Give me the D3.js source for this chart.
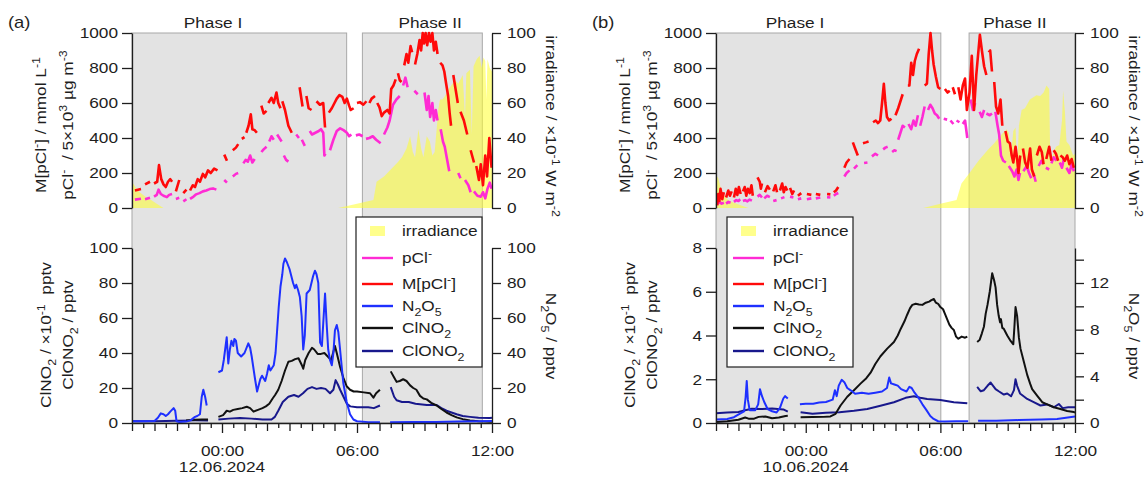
<!DOCTYPE html>
<html>
<head>
<meta charset="utf-8">
<script src="https://cdn.jsdelivr.net/npm/d3@7"></script>
<style>
  html, body { margin: 0; padding: 0; background: #fff; }
  svg { display: block; }
  text { white-space: pre; }
</style>
</head>
<body>
<svg id="chart" width="1147" height="477"></svg>
<script>
// ---------------------------------------------------------------------------
// Data. Every series is a list of [hour relative to local midnight, value];
// a null entry marks a gap in the record.
// ---------------------------------------------------------------------------

// Shaded measurement phases [start hour, end hour]
const phasesA = [[-4, 5.54], [6.24, 11.57]];
const phasesB = [[-4, 6.02], [7.28, 12]];

// Solar irradiance (x10^-1 W m^-2)
const irrA = [[-4,15],[-3.85,12],[-3.66,9],[-3.4,6.5],[-3.2,5],[-2.9,2.5],[-2.6,0],[5.17,0],[6.0,2.5],[6.73,4.6],[6.87,15],[7.2,18],[7.5,22],[7.8,26],[8.0,29],[8.2,34],[8.36,41],[8.48,32],[8.58,29],[8.73,45],[8.85,34],[8.95,29],[9.1,41],[9.24,38],[9.35,30],[9.45,32],[9.54,45],[9.62,57],[9.69,62],[9.8,62],[9.91,64],[10.13,69],[10.36,73],[10.5,71],[10.58,73],[10.7,76],[10.8,52],[10.86,77],[11.02,79],[11.1,42],[11.18,81],[11.32,85],[11.45,87],[11.54,80],[11.62,86],[11.7,84],[11.75,62],[11.8,85],[11.9,80],[12,78]];
const irrB = [[-4,19],[-3.9,17],[-3.75,9.5],[-3.6,6.5],[-3.45,4.6],[-3.2,3],[-2.93,1.7],[-2.56,0],[5.24,0],[6.0,2.5],[6.72,4.6],[6.94,14],[7.3,20],[7.7,27],[8.1,33],[8.4,37],[8.65,41],[8.8,43],[8.95,45],[9.05,43],[9.15,30],[9.25,44],[9.35,46],[9.42,22],[9.5,47],[9.62,56],[9.77,57],[9.99,62],[10.28,64.5],[10.45,64],[10.6,66],[10.73,70],[10.85,68],[10.9,25],[11.0,30],[11.15,35],[11.3,36],[11.42,50],[11.47,67],[11.55,55],[11.62,38],[11.75,36],[11.92,30],[12,31]];

// Particulate chloride pCl- (/5x10^3 ug m^-3)
const pclA = [[-3.87,48],[-3.6,53],null,[-3.42,50],[-3.2,58],null,[-3.02,65],[-2.9,75],[-2.82,105],[-2.72,80],[-2.6,70],[-2.45,62],[-2.35,75],[-2.22,80],null,[-2.05,52],[-1.9,58],null,[-1.72,38],[-1.58,50],null,[-1.42,52],[-1.3,62],[-1.15,78],[-1.0,85],[-0.85,95],[-0.7,100],[-0.55,108],[-0.4,112],[-0.25,105],null,[0.1,160],[0.22,145],null,[0.48,180],[0.62,195],[0.72,200],null,[0.95,255],[1.05,275],[1.15,265],[1.25,300],[1.35,260],[1.45,280],null,[1.75,320],[1.85,335],[1.98,350],null,[2.1,380],[2.2,410],[2.3,390],null,[2.45,420],[2.55,400],[2.65,380],null,[2.75,300],[2.85,275],[2.95,265],null,[3.3,420],[3.42,400],null,[3.55,390],[3.68,355],null,[3.9,440],[4.0,420],[4.15,430],[4.3,440],[4.4,450],[4.5,430],[4.55,300],[4.6,310],null,[4.8,330],[4.95,390],[5.1,440],[5.25,455],[5.4,445],[5.55,430],[5.65,410],[5.75,420],null,[5.95,415],[6.1,420],[6.25,410],null,[6.4,395],[6.55,400],[6.7,410],[6.85,390],[6.95,380],[7.05,370],null,[7.2,420],[7.35,460],[7.45,500],[7.6,590],[7.75,620],[7.9,640],null,[8.05,700],[8.15,745],[8.25,690],null,[8.55,670],[8.7,650],null,[9.0,660],[9.1,560],[9.18,640],[9.25,520],[9.35,600],[9.42,500],[9.5,560],[9.58,500],null,[9.72,450],[9.82,380],[9.9,350],[10.0,280],[10.1,210],null,[10.5,200],[10.6,170],null,[10.8,160],[10.95,130],[11.05,90],null,[11.2,95],[11.35,70],[11.5,65],[11.6,90],[11.7,55],[11.8,110],[11.9,145],[11.98,110]];
const pclB = [[-3.95,20],[-3.85,35],[-3.75,25],[-3.65,30],null,[-3.55,25],[-3.45,35],[-3.35,30],null,[-3.2,35],[-3.1,45],[-3.0,40],[-2.92,50],null,[-2.8,40],[-2.7,45],[-2.6,38],[-2.5,48],[-2.4,42],null,[-2.15,65],[-2.05,75],[-1.95,60],null,[-1.85,55],[-1.72,70],[-1.6,62],null,[-1.45,40],[-1.3,45],null,[-1.1,55],[-0.95,62],null,[-0.7,65],[-0.55,60],null,[-0.35,50],[-0.2,55],null,[0.05,50],[0.25,55],null,[0.45,55],[0.65,60],null,[0.95,62],[1.1,60],null,[1.25,70],[1.35,80],[1.45,86],null,[1.72,180],[1.82,200],[1.95,215],null,[2.15,225],[2.3,245],null,[2.6,257],[2.75,260],null,[2.95,295],[3.1,310],[3.22,300],null,[3.45,335],[3.55,345],[3.65,350],null,[3.85,320],[3.95,330],[4.05,325],null,[4.12,390],[4.22,430],[4.32,470],[4.42,460],null,[4.58,480],[4.7,450],[4.8,500],[4.9,470],[5.0,530],null,[5.1,470],[5.2,520],[5.3,580],null,[5.45,560],[5.55,590],[5.65,570],[5.75,540],[5.85,530],[5.95,510],null,[6.15,510],[6.3,505],null,[6.45,500],[6.58,480],null,[6.72,500],[6.85,490],null,[7.0,480],[7.1,500],[7.2,400],null,[7.35,620],[7.45,560],[7.55,600],null,[7.75,550],[7.85,520],[7.95,560],null,[8.05,540],[8.2,530],[8.3,540],null,[8.45,550],[8.55,470],[8.62,420],[8.7,300],[8.8,270],[8.92,260],null,[9.05,240],[9.2,210],[9.3,180],[9.4,220],[9.48,160],[9.55,200],null,[9.7,210],[9.85,240],[9.95,200],[10.05,170],null,[10.15,200],[10.25,150],null,[10.38,240],[10.5,270],[10.58,250],null,[10.7,230],[10.85,220],null,[10.95,255],[11.05,290],[11.17,270],null,[11.32,260],[11.42,230],[11.5,280],null,[11.62,230],[11.75,200],[11.85,250],[11.95,210]];

// Chloride molality M[pCl-] (mmol L^-1)
const mpclA = [[-3.87,100],[-3.6,108],null,[-3.42,135],[-3.2,150],null,[-3.02,140],[-2.88,150],[-2.8,245],[-2.7,165],[-2.6,135],[-2.5,120],[-2.4,150],[-2.3,165],[-2.22,150],null,[-2.05,95],[-1.9,160],null,[-1.72,85],[-1.58,105],null,[-1.42,100],[-1.3,130],[-1.2,120],[-1.08,165],[-0.98,150],[-0.85,195],[-0.75,175],[-0.62,215],[-0.5,200],[-0.35,225],[-0.2,215],null,[0.1,305],[0.22,270],null,[0.48,330],[0.62,345],[0.72,365],null,[0.88,395],[1.0,405],null,[1.08,430],[1.18,470],[1.28,535],[1.35,450],[1.45,445],[1.55,430],null,[1.75,585],[1.85,540],[1.98,555],null,[2.06,600],[2.2,630],[2.3,600],[2.42,660],[2.5,600],[2.6,570],null,[2.68,610],[2.8,560],[2.95,470],[3.1,430],null,[3.45,690],[3.58,580],null,[3.75,640],[3.85,570],[3.98,560],null,[4.2,610],[4.35,590],[4.5,600],[4.58,460],null,[4.75,545],[4.88,570],[5.0,600],[5.1,625],[5.22,645],[5.35,635],[5.45,600],[5.55,625],[5.65,585],[5.72,560],[5.85,570],null,[6.0,600],[6.13,605],[6.28,590],[6.42,610],null,[6.55,600],[6.65,625],[6.8,640],null,[6.9,600],[7.0,575],[7.1,525],[7.2,545],[7.35,560],[7.45,540],[7.52,680],[7.62,700],[7.72,735],null,[7.82,770],[7.9,730],[7.98,720],null,[8.1,815],[8.2,880],[8.28,830],[8.38,925],[8.45,890],null,[8.58,820],[8.68,880],[8.78,960],[8.85,900],[8.92,1000],[8.98,940],[9.05,1000],[9.12,930],[9.2,1000],[9.27,950],[9.35,1000],[9.42,900],[9.5,950],[9.58,880],null,[9.7,830],[9.8,815],[9.88,780],[9.95,720],[10.05,640],[10.12,540],[10.18,470],null,[10.28,760],[10.38,680],[10.48,600],null,[10.6,550],[10.75,500],[10.9,420],null,[11.05,330],[11.2,260],null,[11.3,240],[11.42,160],[11.5,250],[11.6,130],[11.7,300],[11.78,180],[11.88,400],[11.98,230]];
const mpclB = [[-3.95,15],[-3.9,80],[-3.85,40],[-3.8,110],[-3.72,50],[-3.65,90],null,[-3.55,60],[-3.45,100],[-3.38,70],[-3.3,95],null,[-3.2,60],[-3.12,110],[-3.05,75],[-2.98,120],[-2.9,80],null,[-2.8,95],[-2.72,120],[-2.65,70],[-2.58,110],[-2.5,85],[-2.42,130],[-2.36,70],null,[-2.15,175],[-2.05,150],[-2.0,110],[-1.95,140],null,[-1.82,90],[-1.7,125],[-1.6,105],null,[-1.45,95],[-1.35,130],[-1.28,90],null,[-1.15,100],[-1.05,140],[-0.98,90],[-0.9,120],[-0.82,100],null,[-0.7,115],[-0.6,80],[-0.52,100],null,[-0.35,70],[-0.2,85],null,[0.05,80],[0.25,75],null,[0.45,80],[0.65,75],null,[0.95,80],[1.1,78],null,[1.25,90],[1.35,100],[1.45,120],null,[1.72,230],[1.82,260],[1.95,280],null,[2.1,375],[2.2,340],[2.32,300],null,[2.55,370],[2.68,375],[2.8,380],null,[3.0,490],[3.12,500],[3.22,485],[3.32,500],[3.4,600],[3.48,710],[3.55,600],[3.62,520],[3.72,500],[3.82,510],null,[4.0,530],[4.12,570],[4.22,610],[4.32,650],null,[4.55,700],[4.62,700],[4.7,830],[4.78,760],[4.86,840],[4.95,880],[5.05,910],null,[5.3,700],[5.4,710],[5.48,880],[5.56,1000],[5.63,900],[5.7,820],[5.8,750],[5.9,690],[6.0,680],null,[6.2,680],[6.32,660],[6.42,670],null,[6.55,690],[6.65,650],null,[6.8,690],[6.9,620],[7.0,700],[7.1,740],[7.18,560],[7.3,660],[7.4,870],[7.5,560],[7.6,760],[7.76,990],[7.85,900],[7.95,810],[8.05,760],null,[8.15,890],[8.22,900],[8.3,780],null,[8.4,720],[8.48,580],[8.58,540],[8.68,620],[8.76,470],null,[8.9,440],[9.0,380],[9.1,370],[9.18,300],[9.25,260],[9.35,350],[9.42,280],[9.48,200],[9.56,300],null,[9.68,340],[9.78,260],[9.88,230],[10.0,340],[10.08,220],[10.18,180],null,[10.3,300],[10.42,350],[10.52,320],[10.6,250],null,[10.72,280],[10.85,350],[10.95,270],null,[11.05,330],[11.15,310],[11.25,270],null,[11.35,300],[11.45,290],[11.55,270],[11.65,300],[11.75,250],[11.85,280],[11.95,230]];

// N2O5 (pptv, right-hand axis)
const n2o5A = [[-4,1],[-3.5,1],[-3.0,1.2],[-2.85,3],[-2.72,5.5],[-2.6,5],[-2.5,4],[-2.4,5],[-2.3,6.5],[-2.15,8.5],[-2.08,7],[-2.02,1],[-1.9,0.5],[-1.6,0.8],[-1.4,1.5],[-1.2,3.5],[-1.1,4],[-0.98,5],[-0.9,15],[-0.83,19],[-0.75,15],[-0.68,10],null,[-0.16,29],[0.0,30],[0.08,36],[0.21,49],[0.28,34],[0.35,42],[0.42,47],[0.5,44],[0.55,48],[0.62,47],[0.7,40],[0.85,38],[1.0,40],[1.17,45.5],[1.25,43],[1.32,38],[1.47,25],[1.56,18],[1.7,25],[1.78,27],[1.92,24],[2.0,28],[2.08,33],[2.15,30],[2.3,33],[2.38,40],[2.45,53],[2.52,66],[2.6,78],[2.68,85],[2.73,91],[2.8,94],[2.88,92],[3.0,88],[3.08,84],[3.16,80],[3.24,77],[3.3,79],[3.38,76],[3.46,72],[3.54,61],[3.61,42],[3.68,50],[3.76,74],[3.9,76],[4.05,84],[4.13,87],[4.2,85],[4.28,80],[4.36,46],[4.44,44],[4.5,57],[4.58,74],[4.65,57],[4.72,42],[4.8,36],[4.88,33],[4.95,40],[5.02,53],[5.1,56],[5.17,52],[5.24,43],[5.39,23],[5.54,12],[5.69,5],[5.84,2],[6.0,1],[6.5,0.5],[7.02,0.5],null,[7.47,0.5],[8.5,0.6],[9.5,0.6],[10.5,0.8],[11.5,1],[12,1.2]];
const n2o5B = [[-4,0.3],[-3.5,0.35],[-3.2,0.5],[-2.93,0.8],[-2.75,1.0],[-2.68,2.2],[-2.63,3.6],[-2.58,2.0],[-2.5,1.1],[-2.25,1.1],[-2.12,1.6],[-2.04,2.9],[-1.95,2.3],[-1.85,1.8],[-1.7,1.2],[-1.5,1.0],[-1.3,0.9],[-1.15,1.3],[-1.0,2.1],[-0.92,2.3],[-0.8,2.1],null,[-0.26,1.6],[0.0,1.65],[0.33,1.65],[0.6,1.75],[0.9,1.8],[1.2,2.0],[1.3,2.8],[1.38,2.3],[1.47,3.2],[1.6,3.7],[1.72,3.5],[1.85,3.0],[2.0,2.8],[2.2,2.5],[2.5,2.6],[2.8,2.5],[3.1,2.6],[3.4,2.7],[3.62,3.0],[3.72,3.9],[3.8,3.4],[3.95,3.3],[4.1,3.2],[4.25,2.9],[4.49,2.7],[4.62,3.1],[4.72,3.0],[4.85,2.6],[5.01,2.2],[5.2,1.6],[5.38,1.1],[5.55,0.6],[5.7,0.35],[5.9,0.15],[6.2,0.12],[6.7,0.15],[7.24,0.15],null,[7.68,0.2],[8.5,0.2],[9.5,0.25],[10.5,0.3],[11.2,0.35],[11.6,0.45],[12,0.55]];

// ClNO2 (x10^-1 pptv, left-hand axis)
const clno2A = [[-1.6,1.5],[-1.2,1.8],[-0.9,2],[-0.62,2],null,[-0.16,3.5],[0.05,4.5],[0.21,7],[0.35,6.5],[0.5,7.5],[0.7,8],[0.9,8.5],[1.1,9.3],[1.25,8.5],[1.4,6.5],[1.6,7.5],[1.8,8.5],[1.95,9.5],[2.1,11],[2.25,14],[2.36,16],[2.5,19],[2.65,24],[2.8,30],[2.95,35],[3.1,35.5],[3.25,36.5],[3.4,37],[3.55,33],[3.61,31],[3.7,36],[3.85,40],[4.0,43],[4.1,42],[4.25,39.5],[4.4,39.5],[4.55,40],[4.7,38],[4.85,36],[5.02,44],[5.1,40],[5.25,32],[5.39,26],[5.54,21],[5.69,19],[5.85,18],[6.0,18],[6.3,17.5],[6.58,17],[6.73,14.5],[6.85,17],[7.02,19],null,[7.5,29.5],[7.65,26],[7.76,23.5],[7.9,24],[8.05,25],[8.2,24],[8.36,21.5],[8.5,20],[8.64,19],[8.8,15.5],[8.95,14],[9.1,13.5],[9.3,11.5],[9.54,10],[9.75,8],[9.98,6],[10.2,4.5],[10.43,3.2],[10.7,2.2],[11.02,1.5],[11.4,1],[11.9,0.7],[12,0.7]];
const clno2B = [[-4,0.05],[-3.5,0.08],[-3.0,0.15],[-2.7,0.25],[-2.55,0.2],[-2.3,0.2],[-2.1,0.28],[-1.8,0.3],[-1.5,0.22],[-1.2,0.25],[-0.9,0.32],[-0.8,0.33],null,[-0.23,0.26],[0.3,0.27],[0.8,0.28],[1.1,0.3],[1.33,0.42],[1.55,0.8],[1.85,1.2],[2.15,1.5],[2.44,1.8],[2.7,2.05],[2.89,2.3],[3.1,2.7],[3.33,3.05],[3.63,3.4],[3.93,3.7],[4.1,4.0],[4.23,4.3],[4.4,4.65],[4.52,4.95],[4.65,5.25],[4.75,5.4],[4.9,5.45],[5.05,5.42],[5.2,5.4],[5.35,5.5],[5.5,5.55],[5.6,5.62],[5.71,5.67],[5.8,5.5],[5.9,5.45],[6.0,5.3],[6.12,5.2],[6.2,5.0],[6.3,4.75],[6.4,4.5],[6.5,4.35],[6.6,4.25],[6.7,3.95],[6.8,3.85],[6.95,3.95],[7.1,3.9],[7.2,3.95],null,[7.64,3.7],[7.75,3.8],[7.85,4.1],[7.94,4.4],[8.02,5.0],[8.1,5.4],[8.2,6.0],[8.31,6.85],[8.4,6.5],[8.46,6.2],[8.53,5.4],[8.6,4.9],[8.66,4.6],[8.7,4.75],[8.76,4.35],[8.83,4.3],[8.98,4.0],[9.13,3.75],[9.25,3.6],[9.3,4.4],[9.35,5.3],[9.42,4.9],[9.5,3.9],[9.57,3.4],[9.72,2.8],[9.87,2.2],[10.0,1.8],[10.09,1.55],[10.2,1.4],[10.31,1.25],[10.54,0.95],[10.76,0.85],[11.06,0.72],[11.35,0.64],[11.65,0.55],[11.95,0.5],[12,0.48]];

// ClONO2 (pptv, left-hand axis)
const clono2A = [[-4,1],[-3,1],[-2,1.3],[-1.2,1.5],[-0.62,1.5],null,[-0.16,2],[0.3,2.5],[0.8,2.8],[1.3,2.5],[1.8,2],[2.2,2],[2.35,3.5],[2.5,7],[2.7,12],[2.95,15],[3.2,16],[3.4,15],[3.6,17],[3.8,19.5],[4.0,20.5],[4.2,19.5],[4.4,20],[4.6,19.5],[4.8,17],[4.95,19],[5.05,24.5],[5.15,22],[5.25,19],[5.4,15],[5.55,11],[5.7,9.5],[6.0,9],[6.5,9],[6.75,8.5],[7.02,10],null,[7.5,20.5],[7.65,15],[7.76,13],[8.0,12],[8.3,12],[8.6,11],[9.1,10.3],[9.54,10.3],[9.75,8.5],[9.98,7],[10.2,6],[10.43,5],[10.7,4],[11.02,3.5],[11.4,3],[11.9,2.8],[12,3]];
const clono2B = [[-4,0.45],[-3.5,0.48],[-3.0,0.5],[-2.7,0.58],[-2.4,0.65],[-2.0,0.64],[-1.5,0.66],[-1.0,0.62],[-0.8,0.52],null,[-0.23,0.49],[0.3,0.42],[0.9,0.47],[1.5,0.49],[2.15,0.56],[2.74,0.64],[3.33,0.79],[3.93,0.95],[4.45,1.15],[4.82,1.22],[5.1,1.15],[5.41,1.1],[6.0,1.05],[6.6,0.95],[7.2,0.9],null,[7.64,1.65],[7.8,1.45],[7.94,1.5],[8.1,1.7],[8.24,1.85],[8.35,1.7],[8.46,1.55],[8.6,1.45],[8.83,1.3],[8.98,1.35],[9.15,1.22],[9.28,1.5],[9.35,2.0],[9.42,1.7],[9.55,1.35],[9.87,1.1],[10.16,0.95],[10.46,0.8],[10.76,0.85],[11.06,0.72],[11.28,0.87],[11.45,0.68],[11.7,0.72],[12,0.72]];

// Axis ticks and labels
const topLeftTicks = [0, 200, 400, 600, 800, 1000];
const topRightTicks = [0, 20, 40, 60, 80, 100];
const bottomTicksA = [0, 20, 40, 60, 80, 100];
const bottomLeftTicksB = [0, 2, 4, 6, 8];
const bottomRightTicksB = [0, 2, 4, 6, 8, 10, 12, 14];
const bottomRightLabelsB = [0, 4, 8, 12];
const timeTicks = d3.range(-4, 12.01, 0.5);
const timeLabelHours = [0, 6, 12];
const timeLabels = ['00:00', '06:00', '12:00'];
const dateLabels = ['12.06.2024', '10.06.2024'];
const phaseNames = ['Phase I', 'Phase II'];
const panelTags = ['(a)', '(b)'];

// ---------------------------------------------------------------------------
// Drawing
// ---------------------------------------------------------------------------
const SX = 1.15;                 // horizontal widening of the lettering
const FS = 15;
const FONT = '"Liberation Sans", Arial, Helvetica, sans-serif';
const INK = '#1e1e1e';
const TOP_Y0 = 208, TOP_Y1 = 33, BOT_Y0 = 423, BOT_Y1 = 248;
const COLORS = { irr: '#ffff2e', pcl: '#ff2bd4', mpcl: '#ff0a0a', n2o5: '#1e30ff', clno2: '#111111', clono2: '#18188c' };

const svg = d3.select('#chart');

// text with super/subscript runs: parts are strings or [string, 'sup'|'sub']
function richText(g, x, y, parts, { rotate = 0, anchor = 'start', size = FS } = {}) {
  const t = g.append('text')
    .attr('transform', `translate(${x},${y}) rotate(${rotate}) scale(${SX},1)`)
    .attr('text-anchor', anchor)
    .attr('font-family', FONT)
    .attr('font-size', size)
    .attr('fill', INK);
  let shift = 0;
  parts.forEach(p => {
    const [s, kind] = Array.isArray(p) ? p : [p, ''];
    const target = kind === 'sup' ? -0.42 * size : kind === 'sub' ? 0.3 * size : 0;
    const ts = t.append('tspan').text(s).attr('dy', target - shift);
    if (kind) ts.attr('font-size', size * 0.72);
    shift = target;
  });
  return t;
}

function styleAxis(ax, side, offset) {
  ax.attr('font-family', null).attr('font-size', null);
  ax.select('.domain').attr('stroke', INK).attr('stroke-width', 1.3);
  ax.selectAll('.tick line').attr('stroke', INK).attr('stroke-width', 1.3);
  const tx = ax.selectAll('.tick text')
    .attr('font-family', FONT).attr('font-size', FS).attr('fill', INK)
    .attr('transform', `scale(${SX},1)`);
  if (side === 'left') tx.attr('x', -offset / SX);
  if (side === 'right') tx.attr('x', offset / SX);
}

const plain = d => String(d);

const panels = [
  { left: 132, right: 492, phases: phasesA, phaseLabelAt: [-0.4, 9.25], legendX: 356,
    irr: irrA, pcl: pclA, mpcl: mpclA, n2o5: n2o5A, clno2: clno2A, clono2: clono2A,
    botL: [0, 100], botLTicks: bottomTicksA, botR: [0, 100], botRTicks: bottomTicksA, botRLabels: bottomTicksA },
  { left: 716, right: 1075, phases: phasesB, phaseLabelAt: [-0.48, 9.32], legendX: 727,
    irr: irrB, pcl: pclB, mpcl: mpclB, n2o5: n2o5B, clno2: clno2B, clono2: clono2B,
    botL: [0, 8], botLTicks: bottomLeftTicksB, botR: [0, 15], botRTicks: bottomRightTicksB, botRLabels: bottomRightLabelsB }
];

const legendRows = [
  { key: 'irr',    dy: 14,  parts: ['irradiance'] },
  { key: 'pcl',    dy: 41,  parts: ['pCl', ['-', 'sup']] },
  { key: 'mpcl',   dy: 67,  parts: ['M[pCl', ['-', 'sup'], ']'] },
  { key: 'n2o5',   dy: 89,  parts: ['N', ['2', 'sub'], 'O', ['5', 'sub']] },
  { key: 'clno2',  dy: 111, parts: ['ClNO', ['2', 'sub']] },
  { key: 'clono2', dy: 134, parts: ['ClONO', ['2', 'sub']] }
];

panels.forEach((p, pi) => {
  const g = svg.append('g');
  const x = d3.scaleLinear().domain([-4, 12]).range([p.left, p.right]);
  const yTop = d3.scaleLinear().domain([0, 1000]).range([TOP_Y0, TOP_Y1]);
  const yIrr = d3.scaleLinear().domain([0, 100]).range([TOP_Y0, TOP_Y1]);
  const yBL = d3.scaleLinear().domain(p.botL).range([BOT_Y0, BOT_Y1]);
  const yBR = d3.scaleLinear().domain(p.botR).range([BOT_Y0, BOT_Y1]);

  // measurement phases
  g.append('g').selectAll('rect').data(p.phases).join('rect')
    .attr('x', d => x(d[0])).attr('width', d => x(d[1]) - x(d[0]))
    .attr('y', TOP_Y1).attr('height', BOT_Y0 - TOP_Y1)
    .attr('fill', '#e3e3e3').attr('stroke', '#a8a8a8').attr('stroke-width', 1);

  // irradiance
  g.append('path').datum(p.irr)
    .attr('d', d3.area().x(d => x(d[0])).y0(yIrr(0)).y1(d => yIrr(d[1])))
    .attr('fill', COLORS.irr).attr('fill-opacity', 0.55);

  const lineOn = ys => d3.line().defined(d => d !== null).x(d => x(d[0])).y(d => ys(d[1]));
  const drawLine = (data, ys, color, w) => g.append('path').datum(data)
    .attr('d', lineOn(ys)).attr('fill', 'none').attr('stroke', color)
    .attr('stroke-width', w).attr('stroke-linejoin', 'round').attr('stroke-linecap', 'butt');

  drawLine(p.pcl, yTop, COLORS.pcl, 2.6);
  drawLine(p.mpcl, yTop, COLORS.mpcl, 2.6);
  drawLine(p.clono2, yBL, COLORS.clono2, 2);
  drawLine(p.clno2, yBL, COLORS.clno2, 2);
  drawLine(p.n2o5, yBR, COLORS.n2o5, 2);

  // axes
  const aTL = g.append('g').attr('transform', `translate(${p.left},0)`)
    .call(d3.axisLeft(yTop).tickValues(topLeftTicks).tickFormat(plain).tickSize(10).tickSizeOuter(0));
  styleAxis(aTL, 'left', 14);
  const aTR = g.append('g').attr('transform', `translate(${p.right},0)`)
    .call(d3.axisRight(yIrr).tickValues(topRightTicks).tickFormat(plain).tickSize(9).tickSizeOuter(0));
  styleAxis(aTR, 'right', 15);
  const aBL = g.append('g').attr('transform', `translate(${p.left},0)`)
    .call(d3.axisLeft(yBL).tickValues(p.botLTicks).tickFormat(plain).tickSize(10).tickSizeOuter(0));
  styleAxis(aBL, 'left', 14);
  const aBR = g.append('g').attr('transform', `translate(${p.right},0)`)
    .call(d3.axisRight(yBR).tickValues(p.botRTicks).tickSize(9).tickSizeOuter(0)
      .tickFormat(d => p.botRLabels.includes(d) ? String(d) : ''));
  styleAxis(aBR, 'right', 15);

  const aX = g.append('g').attr('transform', `translate(0,${BOT_Y0})`)
    .call(d3.axisBottom(x).tickValues(timeTicks).tickSize(6).tickSizeOuter(0)
      .tickFormat(d => { const i = timeLabelHours.indexOf(d); return i >= 0 ? timeLabels[i] : ''; }));
  styleAxis(aX, 'bottom', 0);
  aX.selectAll('.tick line').attr('y2', d => timeLabelHours.includes(d) ? 10 : (Number.isInteger(d) ? 8 : 5));
  aX.selectAll('.tick text').attr('y', 22).attr('dy', '0.71em');
  richText(g, x(0), 472, [dateLabels[pi]], { anchor: 'middle' });

  // phase names and panel tag
  p.phaseLabelAt.forEach((h, i) => richText(g, x(h), 28, [phaseNames[i]], { anchor: 'middle' }));
  richText(g, p.left - 124, 28, [panelTags[pi]], { size: 16 });

  // axis titles
  richText(g, p.left - 86, 125, ['M[pCl', ['-', 'sup'], '] / mmol L', ['-1', 'sup']], { rotate: -90, anchor: 'middle' });
  richText(g, p.left - 59, 125, ['pCl', ['-', 'sup'], '  / 5×10', ['3', 'sup'], ' µg m', ['-3', 'sup']], { rotate: -90, anchor: 'middle' });
  richText(g, p.left - 81, 335, ['ClNO', ['2', 'sub'], ' / ×10', ['-1', 'sup'], '  pptv'], { rotate: -90, anchor: 'middle' });
  richText(g, p.left - 59, 335, ['ClONO', ['2', 'sub'], ' / pptv'], { rotate: -90, anchor: 'middle' });
  richText(g, p.right + 54, 126, ['irradiance / ×10', ['-1', 'sup'], ' W m', ['-2', 'sup']], { rotate: 90, anchor: 'middle' });
  richText(g, p.right + 54, 336, ['N', ['2', 'sub'], 'O', ['5', 'sub'], ' / pptv'], { rotate: 90, anchor: 'middle' });

  // legend
  const lx = p.legendX, ly = 217;
  const lg = g.append('g');
  lg.append('rect').attr('x', lx).attr('y', ly).attr('width', 126).attr('height', 150)
    .attr('fill', '#fff').attr('stroke', INK).attr('stroke-width', 1.2);
  legendRows.forEach(r => {
    const cy = ly + r.dy;
    if (r.key === 'irr') {
      lg.append('rect').attr('x', lx + 14).attr('y', cy - 5).attr('width', 15).attr('height', 10)
        .attr('fill', COLORS.irr).attr('fill-opacity', 0.55);
    } else {
      lg.append('line').attr('x1', lx + 6).attr('x2', lx + 37).attr('y1', cy).attr('y2', cy)
        .attr('stroke', COLORS[r.key]).attr('stroke-width', 2.4);
    }
    richText(lg, lx + 46, cy + 5.3, r.parts);
  });
});
</script>
</body>
</html>
